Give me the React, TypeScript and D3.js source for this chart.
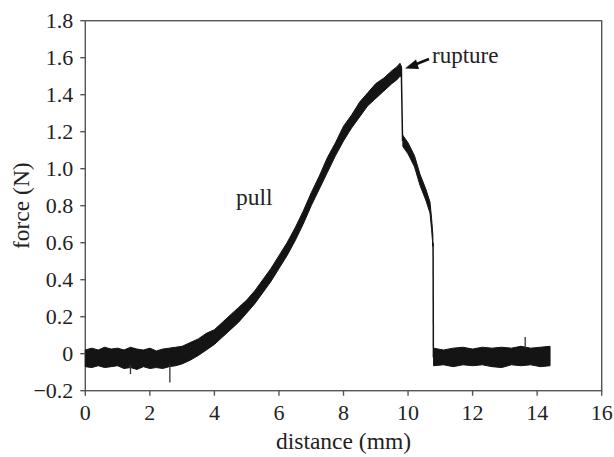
import React from "react";
import * as d3 from "d3";

// ---- data ----
const xTicks = [0, 2, 4, 6, 8, 10, 12, 14, 16];
const yTicks = [-0.2, 0, 0.2, 0.4, 0.6, 0.8, 1.0, 1.2, 1.4, 1.6, 1.8];
const yTickLabels = ["\u22120.2", "0", "0.2", "0.4", "0.6", "0.8", "1.0", "1.2", "1.4", "1.6", "1.8"];

// pulling phase: noisy band (low / high envelope of the trace)
const pullDistance = [0, 0.2, 0.4, 0.6, 0.8, 1.0, 1.2, 1.4, 1.6, 1.8, 2.0, 2.2, 2.4, 2.6, 2.8, 3.0, 3.25, 3.5, 3.75, 4.0, 4.25, 4.5, 4.75, 5.0, 5.25, 5.5, 5.75, 6.0, 6.25, 6.5, 6.75, 7.0, 7.25, 7.5, 7.75, 8.0, 8.25, 8.5, 8.75, 9.0, 9.25, 9.5, 9.65, 9.75, 9.8];
const pullLow = [-0.07, -0.075, -0.065, -0.075, -0.07, -0.065, -0.08, -0.075, -0.085, -0.07, -0.08, -0.075, -0.08, -0.07, -0.065, -0.055, -0.035, -0.01, 0.02, 0.05, 0.09, 0.13, 0.17, 0.22, 0.27, 0.33, 0.39, 0.46, 0.53, 0.61, 0.70, 0.80, 0.89, 0.98, 1.07, 1.15, 1.22, 1.28, 1.34, 1.38, 1.42, 1.46, 1.48, 1.50, 1.50];
const pullHigh = [0.02, 0.03, 0.02, 0.035, 0.025, 0.03, 0.02, 0.035, 0.025, 0.02, 0.03, 0.015, 0.025, 0.03, 0.035, 0.04, 0.06, 0.08, 0.11, 0.13, 0.17, 0.21, 0.25, 0.29, 0.34, 0.40, 0.46, 0.53, 0.60, 0.68, 0.77, 0.87, 0.96, 1.06, 1.14, 1.23, 1.29, 1.36, 1.41, 1.46, 1.49, 1.53, 1.55, 1.57, 1.55];

// after the first (partial) rupture
const tearDistance = [9.84, 10.0, 10.2, 10.37, 10.55, 10.68, 10.73, 10.77];
const tearLow = [1.12, 1.08, 1.01, 0.91, 0.83, 0.76, 0.67, 0.58];
const tearHigh = [1.18, 1.14, 1.07, 0.97, 0.89, 0.82, 0.73, 0.64];

// after full rupture: baseline band
const restDistance = [10.79, 11.1, 11.4, 11.7, 12.0, 12.3, 12.6, 12.9, 13.2, 13.5, 13.8, 14.1, 14.4];
const restLow = [-0.065, -0.06, -0.07, -0.06, -0.065, -0.06, -0.07, -0.075, -0.06, -0.065, -0.06, -0.07, -0.065];
const restHigh = [0.03, 0.02, 0.03, 0.035, 0.025, 0.035, 0.03, 0.035, 0.03, 0.04, 0.03, 0.035, 0.04];

// thin connecting drops: [x1, y1, x2, y2]
const drops: [number, number, number, number][] = [
  [9.79, 1.55, 9.83, 1.15],
  [10.775, 0.6, 10.785, -0.02],
];
// isolated spikes: [distance, from, to]
const spikes: [number, number, number][] = [
  [2.62, -0.06, -0.155],
  [1.4, -0.06, -0.11],
  [13.63, 0.03, 0.09],
];

const W = 614;
const H = 457;
const left = 85.3;
const right = 601.7;
const top = 20.7;
const bottom = 390.7;

export default function App() {
  const x = d3.scaleLinear().domain([0, 16]).range([left, right]);
  const y = d3.scaleLinear().domain([-0.2, 1.8]).range([bottom, top]);

  const band = (xs: number[], lo: number[], hi: number[]) => {
    const rows = xs.map((d, i) => ({ d, lo: lo[i], hi: hi[i] }));
    return (
      d3
        .area<{ d: number; lo: number; hi: number }>()
        .x((r) => x(r.d))
        .y0((r) => y(r.lo))
        .y1((r) => y(r.hi))
        .curve(d3.curveLinear)(rows) || ""
    );
  };

  const dataColor = "#141414";
  const axisColor = "#555";
  const fontStyle = { fontFamily: "Liberation Serif, Times New Roman, DejaVu Serif, serif" };

  return (
    <svg
      width={W}
      height={H}
      style={{ position: "absolute", left: 0, top: 0, background: "#fff" }}
    >
      {/* frame */}
      <rect
        x={left}
        y={top}
        width={right - left}
        height={bottom - top}
        fill="none"
        stroke={axisColor}
        strokeWidth={1.4}
      />

      {/* data */}
      <g fill={dataColor} stroke={dataColor} strokeWidth={1} strokeLinejoin="round">
        <path d={band(pullDistance, pullLow, pullHigh)} />
        <path d={band(tearDistance, tearLow, tearHigh)} />
        <path d={band(restDistance, restLow, restHigh)} />
      </g>
      <g stroke={dataColor} strokeWidth={1.5} fill="none">
        {drops.map((s, i) => (
          <line key={i} x1={x(s[0])} y1={y(s[1])} x2={x(s[2])} y2={y(s[3])} />
        ))}
      </g>
      <g stroke="#333" strokeWidth={1.3}>
        {spikes.map((s, i) => (
          <line key={i} x1={x(s[0])} y1={y(s[1])} x2={x(s[0])} y2={y(s[2])} />
        ))}
      </g>

      {/* ticks and tick labels */}
      <g style={fontStyle} fontSize={22} fill="#222">
        {xTicks.map((t) => (
          <g key={t}>
            <line x1={x(t)} x2={x(t)} y1={bottom} y2={bottom + 5} stroke={axisColor} strokeWidth={1.4} />
            <text x={x(t)} y={bottom + 29} textAnchor="middle">
              {t}
            </text>
          </g>
        ))}
        {yTicks.map((t, i) => (
          <g key={t}>
            <line x1={left - 5} x2={left} y1={y(t)} y2={y(t)} stroke={axisColor} strokeWidth={1.4} />
            <text x={left - 12} y={y(t)} dy="0.35em" textAnchor="end">
              {yTickLabels[i]}
            </text>
          </g>
        ))}
      </g>

      {/* axis titles */}
      <text
        x={(left + right) / 2}
        y={449}
        textAnchor="middle"
        style={fontStyle}
        fontSize={23.5}
        fill="#222"
      >
        distance (mm)
      </text>
      <text
        transform={`translate(29, ${(top + bottom) / 2}) rotate(-90)`}
        textAnchor="middle"
        style={fontStyle}
        fontSize={23.5}
        fill="#222"
      >
        force (N)
      </text>

      {/* annotations */}
      <text x={236} y={205} style={fontStyle} fontSize={23.5} fill="#222">
        pull
      </text>
      <text x={432} y={63} style={fontStyle} fontSize={23} fill="#222">
        rupture
      </text>
      <line x1={429} y1={59} x2={414} y2={65} stroke="#111" strokeWidth={2.6} />
      <polygon points="405,68.5 416,59.5 419,69" fill="#111" />
    </svg>
  );
}
